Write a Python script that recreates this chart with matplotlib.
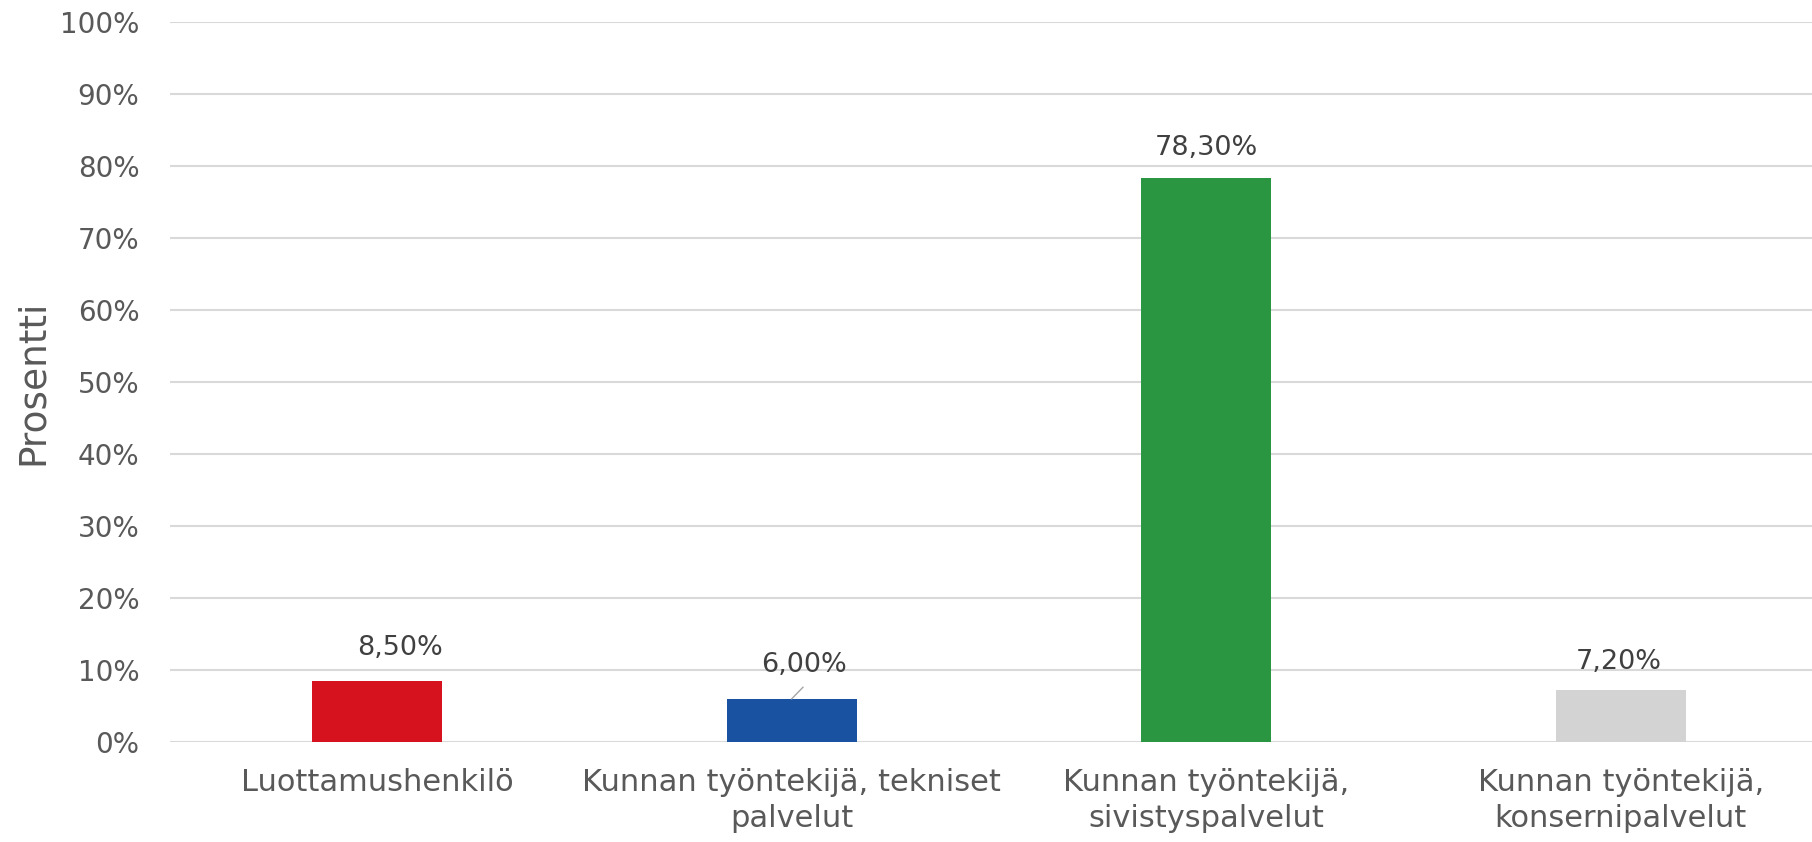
import matplotlib.pyplot as plt
from matplotlib.ticker import FuncFormatter

# Data
categories = ["Luottamushenkilö",
              "Kunnan työntekijä, tekniset\npalvelut",
              "Kunnan työntekijä,\nsivistyspalvelut",
              "Kunnan työntekijä,\nkonsernipalvelut"]
values = [8.5, 6.0, 78.3, 7.2]
value_labels = ["8,50%", "6,00%", "78,30%", "7,20%"]
colors = ["#d7121f", "#1a52a2", "#2b9642", "#d3d3d3"]

# label placement (Excel moved some labels a little)
label_dx = [0.055, 0.029, 0.0, -0.005]
label_y = [13.05, 10.7, 82.5, 11.1]

plt.rcParams['font.family'] = ['DejaVu Sans']
text_color = "#595959"

fig = plt.figure(figsize=(18.12, 8.42), dpi=100)
ax = fig.add_axes([170 / 1812, 1 - 742 / 842, 1642 / 1812, 720 / 842])

x = list(range(len(categories)))
ax.bar(x, values, width=0.314, color=colors, zorder=3)

for i, v in enumerate(values):
    ax.text(i + label_dx[i], label_y[i], value_labels[i], ha="center", va="center",
            fontsize=19.5, color="#404040", zorder=4)

# leader line for the small blue bar label
ax.plot([1, 1.027], [values[1], 7.6], color="#a6a6a6", lw=1, zorder=4)

ax.set_xlim(-0.5, -0.5 + 1642 / 414.5)
ax.set_ylim(0, 100)
ax.set_yticks(range(0, 101, 10))
ax.yaxis.set_major_formatter(FuncFormatter(lambda v, p: f"{int(v)}%"))
ax.set_xticks(x)
ax.set_xticklabels(categories, linespacing=1.3)

ax.grid(axis="y", color="#d9d9d9", lw=1.5, zorder=0)
ax.set_axisbelow(True)
for s in ax.spines.values():
    s.set_visible(False)

ax.tick_params(axis="y", length=0, pad=22, labelsize=20, labelcolor=text_color)
ax.tick_params(axis="x", length=0, pad=19, labelsize=22, labelcolor=text_color)

fig.text(33 / 1812, 1 - 382 / 842, "Prosentti", rotation=90, ha="center", va="center",
         fontsize=27, color=text_color)

fig.savefig("out.png", dpi=100)
